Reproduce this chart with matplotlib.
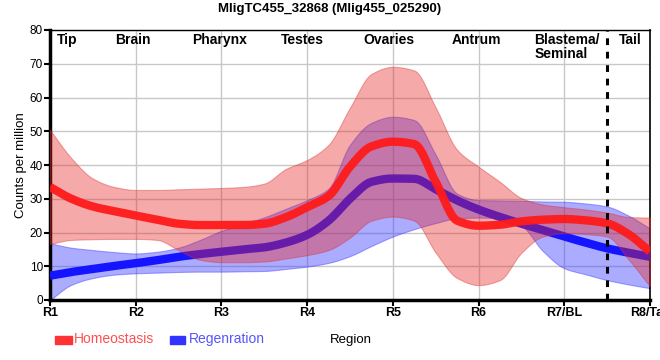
import matplotlib
matplotlib.use("Agg")
import matplotlib.pyplot as plt
from matplotlib.patches import Rectangle
import numpy as np

plt.rcParams['font.family'] = ['Liberation Sans', 'DejaVu Sans']

title = "MligTC455_32868 (Mlig455_025290)"
tick_labels = ["R1", "R2", "R3", "R4", "R5", "R6", "R7/BL", "R8/Tail"]
region_names = ["Tip", "Brain", "Pharynx", "Testes", "Ovaries", "Antrum", "Blastema/\nSeminal", "Tail"]
region_pos = [0.2, 0.97, 1.98, 2.95, 3.95, 4.97, 5.65, 6.77]
region_ha = ["center", "center", "center", "center", "center", "center", "left", "center"]

# sample positions along the body axis (region index, quarter steps)
pos = [i * 0.25 for i in range(29)]

homeo_mean = [33.5, 30.0, 27.7, 26.3, 25.0, 23.8, 22.6, 22.2, 22.2, 22.2, 22.6, 24.5, 27.5,
              30.8, 39.5, 45.5, 46.9, 46.2, 35.0, 23.5, 22.0, 22.3, 23.3, 23.8, 24.0, 23.6,
              22.7, 19.5, 14.3]
homeo_upper = [50.4, 42.0, 36.0, 33.5, 32.6, 32.6, 32.8, 33.0, 33.2, 33.5, 34.5, 38.8, 41.5,
               46.0, 57.0, 67.0, 69.1, 68.0, 57.0, 44.5, 39.5, 35.0, 30.2, 28.3, 27.5, 26.8,
               25.9, 24.6, 24.4]
homeo_lower = [16.6, 17.8, 18.0, 18.1, 18.1, 17.8, 14.8, 11.9, 11.2, 11.2, 11.4, 12.3, 13.3,
               14.8, 18.5, 23.5, 24.7, 23.5, 14.0, 6.5, 4.4, 5.9, 14.0, 18.8, 19.8, 19.5,
               18.8, 12.0, 4.0]

regen_mean = [7.2, 8.3, 9.2, 10.1, 10.9, 11.8, 12.8, 13.6, 14.3, 15.0, 15.6, 17.0, 19.3,
              23.5, 30.0, 35.0, 36.0, 35.9, 32.8, 29.5, 26.8, 24.6, 22.6, 20.7, 18.8, 17.0,
              15.3, 14.0, 12.8]
regen_upper = [16.8, 15.5, 14.8, 14.2, 13.8, 14.3, 15.5, 17.8, 20.5, 22.5, 24.5, 27.0, 29.6,
               33.0, 46.0, 52.5, 54.3, 53.3, 43.0, 31.5, 29.6, 29.5, 29.4, 29.2, 29.1, 28.6,
               27.7, 25.0, 21.2]
regen_lower = [0.0, 4.5, 6.5, 7.5, 7.9, 8.1, 8.3, 8.4, 8.4, 8.5, 8.6, 9.2, 9.9,
               11.0, 13.0, 16.0, 18.8, 21.0, 22.8, 24.2, 24.4, 24.2, 22.0, 14.5, 9.4, 7.6,
               5.9, 4.6, 3.5]


def smooth_path(x, y, per_seg=12):
    """Monotone cubic (Fritsch-Carlson) rendering of a polyline through the read points."""
    x = np.asarray(x, float)
    y = np.asarray(y, float)
    h = np.diff(x)
    d = np.diff(y) / h
    m = np.zeros_like(y)
    m[0], m[-1] = d[0], d[-1]
    for i in range(1, len(y) - 1):
        if d[i - 1] * d[i] <= 0:
            m[i] = 0.0
        else:
            w1 = 2 * h[i] + h[i - 1]
            w2 = h[i] + 2 * h[i - 1]
            m[i] = (w1 + w2) / (w1 / d[i - 1] + w2 / d[i])
    xs, ys = [], []
    for i in range(len(x) - 1):
        t = np.linspace(0, 1, per_seg, endpoint=False)
        h00 = 2 * t**3 - 3 * t**2 + 1
        h10 = t**3 - 2 * t**2 + t
        h01 = -2 * t**3 + 3 * t**2
        h11 = t**3 - t**2
        xs.append(x[i] + t * h[i])
        ys.append(h00 * y[i] + h10 * h[i] * m[i] + h01 * y[i + 1] + h11 * h[i] * m[i + 1])
    xs.append([x[-1]])
    ys.append([y[-1]])
    return np.concatenate(xs), np.concatenate(ys)


fig = plt.figure(figsize=(6.6, 3.6), dpi=100)
ax = fig.add_axes([50 / 660, 60 / 360, 600 / 660, 270 / 360])

ax.set_xlim(0, 7)
ax.set_ylim(0, 80)
ax.set_xticks(range(8))
ax.set_xticklabels(tick_labels, fontsize=9, fontweight='bold')
ax.set_yticks(range(0, 81, 10))
ax.set_yticklabels([str(v) for v in range(0, 81, 10)], fontsize=8.5)
ax.grid(True, color='#c8c8c8', linewidth=1.0)
ax.set_axisbelow(True)
ax.tick_params(axis='both', length=4, width=1.5, pad=1)

for side, w in [('left', 2.5), ('bottom', 2.5), ('right', 1.2), ('top', 1.0)]:
    ax.spines[side].set_linewidth(w)
    ax.spines[side].set_color('black')

# Regeneration band + line (drawn first)
sx, rl = smooth_path(pos, regen_lower)
_, ru = smooth_path(pos, regen_upper)
_, rm = smooth_path(pos, regen_mean)
ax.fill_between(sx, rl, ru, color='#3838ff', alpha=0.42, linewidth=0.8,
                edgecolor=(0.2, 0.2, 1.0, 0.5), zorder=2)
ax.plot(sx, rm, color='#1414ff', linewidth=6, solid_joinstyle='round',
        solid_capstyle='butt', zorder=3)

# Homeostasis band + line
_, hl = smooth_path(pos, homeo_lower)
_, hu = smooth_path(pos, homeo_upper)
_, hm = smooth_path(pos, homeo_mean)
ax.fill_between(sx, hl, hu, color='#e62828', alpha=0.4, linewidth=0.8,
                edgecolor=(0.85, 0.2, 0.2, 0.6), zorder=4)
ax.plot(sx, hm, color='#ff1a1a', linewidth=6, solid_joinstyle='round',
        solid_capstyle='butt', alpha=0.95, zorder=5)

ax.axvline(6.5, color='black', linewidth=2.2, linestyle=(0, (2.2, 2.2)), zorder=6)

for name, x, ha in zip(region_names, region_pos, region_ha):
    ax.text(x, 79, name, ha=ha, va='top', fontsize=10, fontweight='bold', zorder=7,
            linespacing=1.0)

fig.text(330 / 660, 1 - 9 / 360, title, ha='center', va='center', fontsize=9.5,
         fontweight='bold')
ax.set_ylabel("Counts per million", fontsize=9.5, labelpad=2)
fig.text(351 / 660, 1 - 340 / 360, "Region", ha='center', va='center', fontsize=9.5)

# legend
fig.add_artist(Rectangle((55 / 660, 1 - 344 / 360), 17 / 660, 8 / 360,
                         transform=fig.transFigure, color='#ff3333'))
fig.text(74 / 660, 1 - 339 / 360, "Homeostasis", ha='left', va='center', fontsize=10,
         color='#ff5050')
fig.add_artist(Rectangle((170 / 660, 1 - 344 / 360), 15 / 660, 8 / 360,
                         transform=fig.transFigure, color='#3333ff'))
fig.text(189 / 660, 1 - 339 / 360, "Regenration", ha='left', va='center', fontsize=10,
         color='#5555ff')

fig.savefig("out.png", dpi=100)
